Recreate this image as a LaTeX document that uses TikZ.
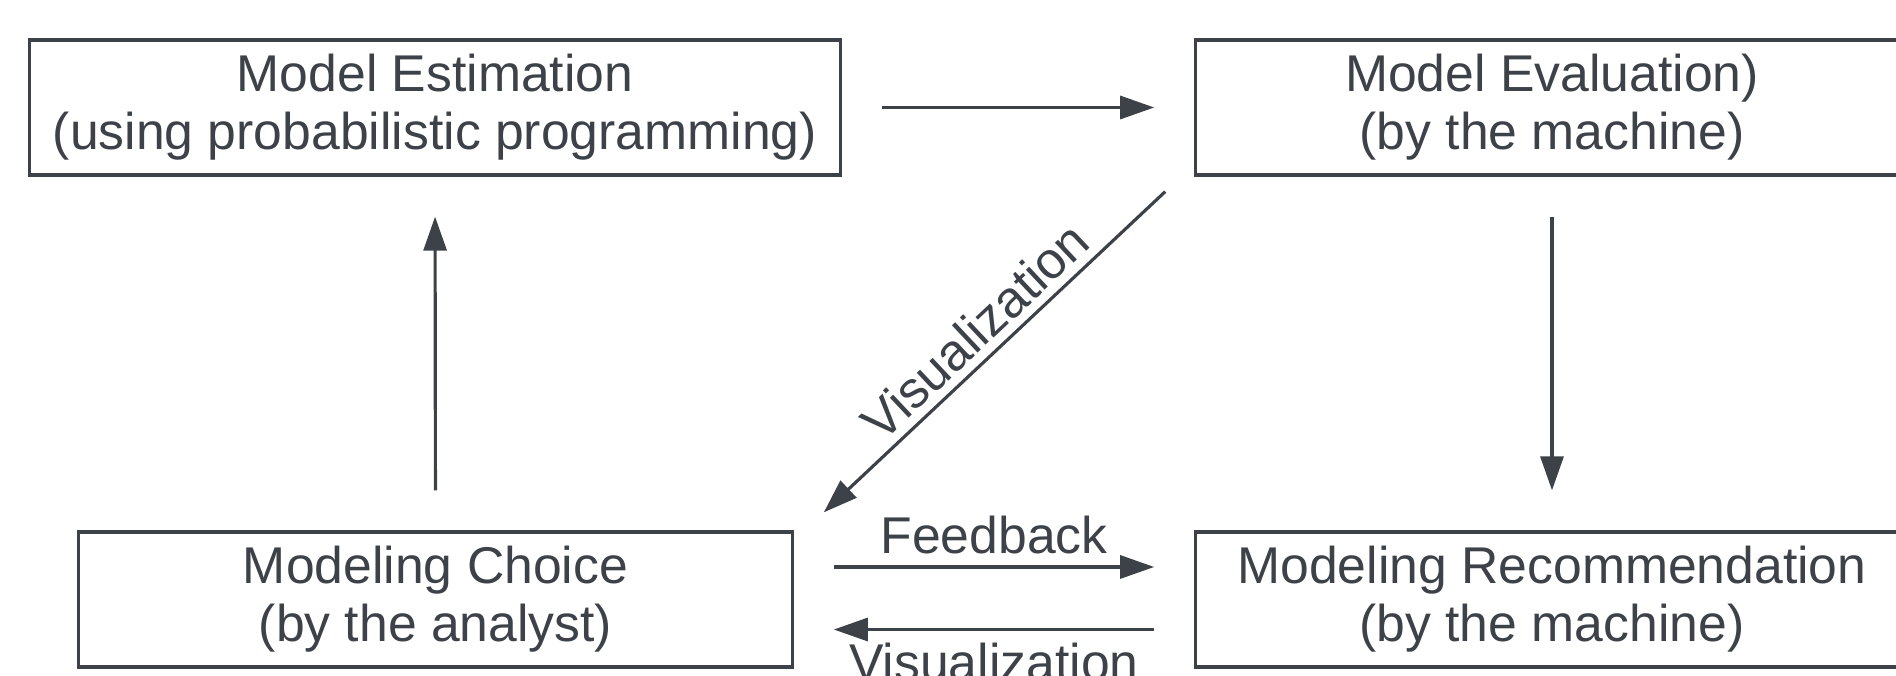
\documentclass[tikz,border=0pt]{standalone}
\usepackage{fontspec}
\setmainfont{Liberation Sans}
\usetikzlibrary{arrows.meta}
\definecolor{slate}{HTML}{3D4249}
\begin{document}
\begin{tikzpicture}[x=0.01cm,y=-0.01cm,
    stage/.style={draw=slate, line width=0.9pt, minimum height=1.35cm, inner sep=0pt,
      align=center, text=slate, font=\fontsize{14.7}{16.5}\selectfont},
    flow/.style={draw=slate, line width=0.9pt, -{Triangle[length=3.4mm,width=2.3mm]},
      shorten <=0.4cm, shorten >=0.4cm},
    lbl/.style={text=slate, font=\fontsize{14.7}{16.5}\selectfont}]
          \useasboundingbox (0,0) rectangle (1896,676);
          \clip (0,0) rectangle (1896,676);

          \node [stage, minimum width=8.1cm] (estim) at (435,107.5) {Model Estimation\\(using probabilistic programming)}; % Draws a box
          \node [stage, minimum width=7.12cm] (evalu) at (1552,107.5) {Model Evaluation)\\(by the machine)}; % Draws a box

          \node [stage, minimum width=7.13cm] (choice) at (435.5,599.5) {Modeling Choice\\(by the analyst)}; % Draws a box
          \node [stage, minimum width=7.12cm] (recom) at (1552,599.5) {Modeling Recommendation\\(by the machine)}; % Draws a box

          \draw [flow] (estim.east) to (evalu.west);
          \draw [flow] (evalu.south) to (recom.north);
          \draw [flow] (choice.north) to (estim.south);

          \draw [flow, shorten <=0pt, shorten >=0pt] ([xshift=-0.29cm,yshift=-0.15cm]evalu.south west) to node [lbl, sloped, above=-1pt] {Visualization} ([xshift=0.3cm,yshift=0.18cm]choice.north east);

          \draw [flow] ([yshift=0.325cm]choice.east) to node [lbl, above] {Feedback} ([yshift=0.325cm]recom.west);
          \draw [flow] ([yshift=-0.3cm]recom.west) to node [lbl, below] {Visualization} ([yshift=-0.3cm]choice.east);
        \end{tikzpicture}
\end{document}
